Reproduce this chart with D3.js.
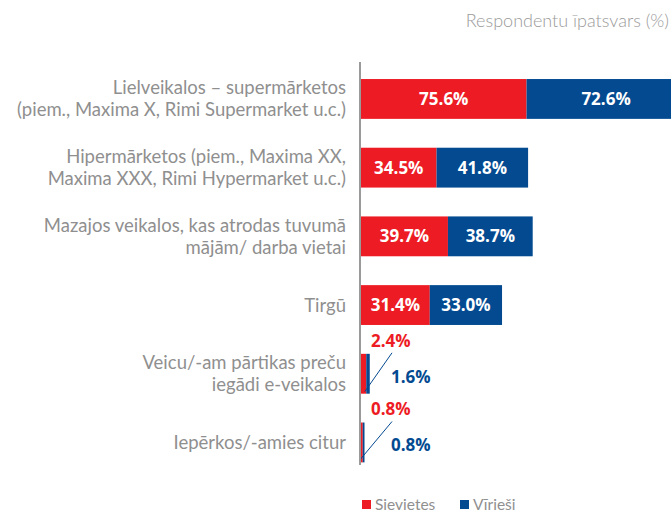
<!DOCTYPE html>
<html>
<head>
<meta charset="utf-8">
<script src="https://cdn.jsdelivr.net/npm/d3@7"></script>
<style>
  body { margin: 0; background: #fff; overflow: hidden; }
  svg { display: block; font-family: Lato, "Open Sans", sans-serif; }
</style>
</head>
<body>
<script>
"use strict";

// chart data
var categories = [
  ["Lielveikalos – supermārketos", "(piem., Maxima X, Rimi Supermarket u.c.)"],
  ["Hipermārketos (piem., Maxima XX,", "Maxima XXX, Rimi Hypermarket u.c.)"],
  ["Mazajos veikalos, kas atrodas tuvumā", "mājām/ darba vietai"],
  ["Tirgū"],
  ["Veicu/-am pārtikas preču", "iegādi e-veikalos"],
  ["Iepērkos/-amies citur"]
];
var women = [75.6, 34.5, 39.7, 31.4, 2.4, 0.8];
var men = [72.6, 41.8, 38.7, 33.0, 1.6, 0.8];
var seriesNames = ["Sievietes", "Vīrieši"];
var seriesColors = ["#ed1c24", "#034a91"];

var width = 671, height = 513;

var svg = d3.select("body").append("svg")
    .attr("width", width)
    .attr("height", height);

var keys = categories.map(function(c, i) { return "c" + i; });

var x = d3.scaleLinear()
    .domain([0, 100])
    .range([361, 580]);

var y = d3.scaleBand()
    .domain(keys)
    .range([64.6, 476.8])
    .paddingInner(0.42)
    .paddingOuter(0.21);

var fmt = function(v) { return v.toFixed(1) + "%"; };

// top-right caption
svg.append("text")
    .attr("x", 669)
    .attr("y", 27)
    .attr("text-anchor", "end")
    .style("font-size", "18px")
    .style("font-weight", 300)
    .style("fill", "#9a9a9a")
    .text("Respondentu īpatsvars (%)");

function valueLabel(g, xPos, yPos, txt, color, anchor) {
  g.append("text")
      .attr("x", xPos)
      .attr("y", yPos)
      .attr("dy", "0.35em")
      .attr("text-anchor", anchor)
      .style("font-family", "'Open Sans', sans-serif")
      .style("font-size", "17px")
      .style("font-weight", 700)
      .style("fill", color)
      .text(txt);
}

// bars
var rows = svg.selectAll("g.row")
    .data(keys)
  .enter().append("g")
    .attr("class", "row");

rows.each(function(k, i) {
  var g = d3.select(this);
  var y0 = y(k), bh = y.bandwidth();
  var w = women[i], m = men[i];

  g.append("rect")
      .attr("x", x(0))
      .attr("y", y0)
      .attr("width", x(w) - x(0))
      .attr("height", bh)
      .style("fill", seriesColors[0]);
  g.append("rect")
      .attr("x", x(w))
      .attr("y", y0)
      .attr("width", x(w + m) - x(w))
      .attr("height", bh)
      .style("fill", seriesColors[1]);

  if (w >= 5 && m >= 5) {
    valueLabel(g, (x(0) + x(w)) / 2, y0 + bh / 2, fmt(w), "#fff", "middle");
    valueLabel(g, (x(w) + x(w + m)) / 2, y0 + bh / 2, fmt(m), "#fff", "middle");
  } else {
    // tiny bars: labels outside with a leader line
    g.append("line")
        .attr("x1", x(w + m) - 5)
        .attr("y1", y0 + bh - 2)
        .attr("x2", x(0) + 31)
        .attr("y2", y0 - 1)
        .style("stroke", seriesColors[1])
        .style("stroke-width", 1);
    valueLabel(g, x(0) + 10, y0 - 13, fmt(w), seriesColors[0], "start");
    valueLabel(g, x(0) + 30, y0 + bh / 2 + 3, fmt(m), seriesColors[1], "start");
  }

  // category label
  var lines = categories[i];
  var lh = 22;
  var t = g.append("text")
      .attr("text-anchor", "end")
      .style("font-size", "18.5px")
      .style("fill", "#8f8f8f");
  lines.forEach(function(line, j) {
    t.append("tspan")
        .attr("x", 346)
        .attr("y", y0 + bh / 2 + (j - (lines.length - 1) / 2) * lh)
        .attr("dy", "0.35em")
        .text(line);
  });
});

// vertical axis line
svg.append("line")
    .attr("x1", x(0) - 1)
    .attr("x2", x(0) - 1)
    .attr("y1", 62)
    .attr("y2", 465)
    .style("stroke", "#9a9a9a")
    .style("stroke-width", 2);

// legend
var legend = svg.append("g").attr("class", "legend");
var legX = [362, 460];
seriesNames.forEach(function(name, i) {
  legend.append("rect")
      .attr("x", legX[i])
      .attr("y", 500)
      .attr("width", 9)
      .attr("height", 9)
      .style("fill", seriesColors[i]);
  legend.append("text")
      .attr("x", legX[i] + 13)
      .attr("y", 505)
      .attr("dy", "0.35em")
      .style("font-size", "15.5px")
      .style("fill", "#8f8f8f")
      .text(name);
});
</script>
</body>
</html>
